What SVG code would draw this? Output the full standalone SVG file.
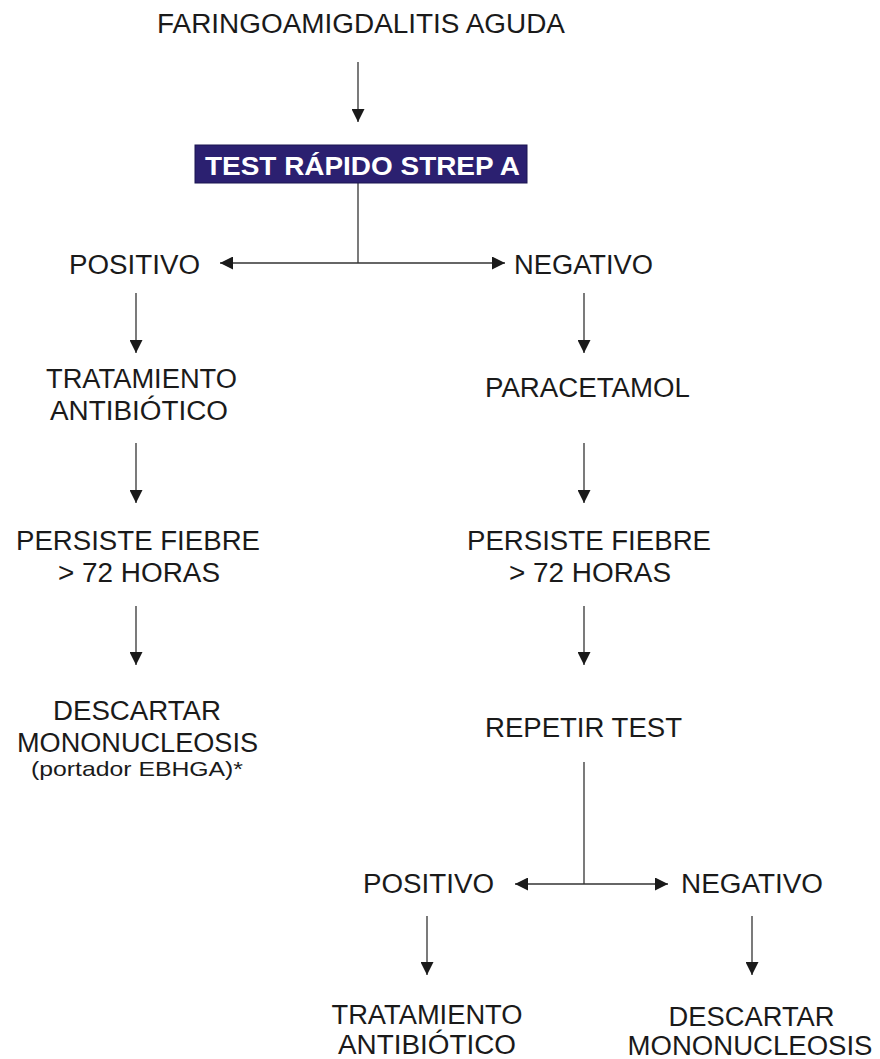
<svg xmlns="http://www.w3.org/2000/svg" width="880" height="1059" viewBox="0 0 880 1059">
<defs>
<style>
.t{font-family:"Liberation Sans",Arial,sans-serif;font-size:27px;fill:#1a1a1a;text-anchor:middle}
.s{font-family:"Liberation Sans",Arial,sans-serif;font-size:21px;fill:#1a1a1a;text-anchor:middle}
.b{font-family:"Liberation Sans",Arial,sans-serif;font-size:26px;font-weight:bold;fill:#ffffff;text-anchor:middle}
.c{stroke:#333333;stroke-width:1.3;fill:none}
.a{marker-end:url(#ah)}
</style>
<marker id="ah" viewBox="0 0 13 13" refX="13" refY="6.5" markerWidth="13" markerHeight="13" markerUnits="userSpaceOnUse" orient="auto">
<path d="M0,0 L13,6.5 L0,13 Z" fill="#1a1a1a"/>
</marker>
</defs>
<rect width="880" height="1059" fill="#ffffff"/>

<g id="connectors">
<line class="c a" x1="358" y1="62" x2="358" y2="122"/>
<line class="c" x1="358" y1="183" x2="358" y2="263"/>
<line class="c a" x1="358" y1="263" x2="220" y2="263"/>
<line class="c a" x1="358" y1="263" x2="505" y2="263"/>
<line class="c a" x1="136" y1="293" x2="136" y2="353"/>
<line class="c a" x1="136" y1="443" x2="136" y2="503"/>
<line class="c a" x1="136" y1="606" x2="136" y2="665"/>
<line class="c a" x1="584" y1="293" x2="584" y2="353"/>
<line class="c a" x1="584" y1="443" x2="584" y2="503"/>
<line class="c a" x1="584" y1="606" x2="584" y2="665"/>
<line class="c" x1="584" y1="762" x2="584" y2="884"/>
<line class="c a" x1="584" y1="884" x2="515" y2="884"/>
<line class="c a" x1="584" y1="884" x2="668" y2="884"/>
<line class="c a" x1="427" y1="916" x2="427" y2="975"/>
<line class="c a" x1="752" y1="916" x2="752" y2="975"/>
</g>

<g id="n-faringo">
<text class="t" x="361" y="33" textLength="408" lengthAdjust="spacingAndGlyphs">FARINGOAMIGDALITIS AGUDA</text>
</g>
<g id="n-test">
<rect x="195" y="145" width="332" height="38" fill="#2b2070" stroke="#1a1450" stroke-width="1"/>
<text class="b" x="362.5" y="175" textLength="315" lengthAdjust="spacingAndGlyphs">TEST RÁPIDO STREP A</text>
</g>
<g id="n-positivo1">
<text class="t" x="134.5" y="274" textLength="131" lengthAdjust="spacingAndGlyphs">POSITIVO</text>
</g>
<g id="n-negativo1">
<text class="t" x="583.5" y="274" textLength="139" lengthAdjust="spacingAndGlyphs">NEGATIVO</text>
</g>
<g id="n-tratamiento1">
<text class="t" x="141.5" y="388" textLength="191" lengthAdjust="spacingAndGlyphs">TRATAMIENTO</text>
<text class="t" x="139" y="420" textLength="178" lengthAdjust="spacingAndGlyphs">ANTIBIÓTICO</text>
</g>
<g id="n-paracetamol">
<text class="t" x="587.5" y="397" textLength="205" lengthAdjust="spacingAndGlyphs">PARACETAMOL</text>
</g>
<g id="n-persiste1">
<text class="t" x="138" y="550" textLength="244" lengthAdjust="spacingAndGlyphs">PERSISTE FIEBRE</text>
<text class="t" x="139" y="582" textLength="162" lengthAdjust="spacingAndGlyphs">&gt; 72 HORAS</text>
</g>
<g id="n-persiste2">
<text class="t" x="589" y="550" textLength="244" lengthAdjust="spacingAndGlyphs">PERSISTE FIEBRE</text>
<text class="t" x="590" y="582" textLength="162" lengthAdjust="spacingAndGlyphs">&gt; 72 HORAS</text>
</g>
<g id="n-descartar1">
<text class="t" x="137" y="720" textLength="168" lengthAdjust="spacingAndGlyphs">DESCARTAR</text>
<text class="t" x="137.5" y="752" textLength="241" lengthAdjust="spacingAndGlyphs">MONONUCLEOSIS</text>
<text class="s" x="137" y="776" textLength="212" lengthAdjust="spacingAndGlyphs">(portador EBHGA)*</text>
</g>
<g id="n-repetir">
<text class="t" x="583.5" y="737" textLength="197" lengthAdjust="spacingAndGlyphs">REPETIR TEST</text>
</g>
<g id="n-positivo2">
<text class="t" x="428.5" y="893" textLength="131" lengthAdjust="spacingAndGlyphs">POSITIVO</text>
</g>
<g id="n-negativo2">
<text class="t" x="752" y="893" textLength="142" lengthAdjust="spacingAndGlyphs">NEGATIVO</text>
</g>
<g id="n-tratamiento2">
<text class="t" x="427" y="1024" textLength="191" lengthAdjust="spacingAndGlyphs">TRATAMIENTO</text>
<text class="t" x="427" y="1054" textLength="178" lengthAdjust="spacingAndGlyphs">ANTIBIÓTICO</text>
</g>
<g id="n-descartar2">
<text class="t" x="751.5" y="1026" textLength="166" lengthAdjust="spacingAndGlyphs">DESCARTAR</text>
<text class="t" x="750" y="1055" textLength="245" lengthAdjust="spacingAndGlyphs">MONONUCLEOSIS</text>
</g>
</svg>
